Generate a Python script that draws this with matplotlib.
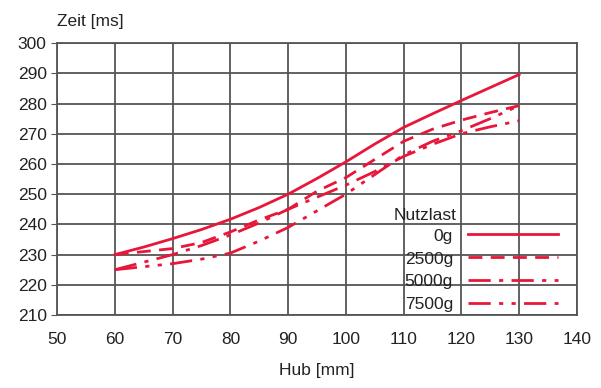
import matplotlib.pyplot as plt

hub = [60, 65, 70, 75, 80, 85, 90, 95, 100, 105, 110, 115, 120, 125, 130]
zeit_0g = [230, 232.5, 235.3, 238.3, 241.7, 245.6, 250, 255.2, 260.7, 266.6, 272.1, 276.6, 281, 285.3, 289.6]
zeit_2500g = [230, 231, 232, 234, 237.5, 241.5, 245, 251, 255.5, 261.5, 267.5, 271.5, 274.5, 277, 279.3]
zeit_5000g = [225, 227.5, 230, 233, 236.5, 240.5, 245, 249, 253, 257.5, 262.5, 266.5, 270, 272.3, 274.3]
zeit_7500g = [225, 226, 227, 228.5, 230.5, 234.5, 239, 244.5, 250, 256.5, 263, 267.5, 271, 275, 279.3]
labels = ['0g', '2500g', '5000g', '7500g']

plt.rcParams['font.family'] = ['Liberation Sans Narrow', 'Liberation Sans', 'DejaVu Sans']
plt.rcParams['font.size'] = 12.5

rot = '#e8173a'
styles = ['-', (0, (5, 3)), (0, (8, 3, 1.5, 3)), (0, (8, 3, 1.5, 3, 1.5, 3))]

fig = plt.figure(figsize=(6.01, 3.88), dpi=100)
ax = fig.add_axes([0.095, 0.188, 0.865, 0.701])

for y, lab, ls in zip([zeit_0g, zeit_2500g, zeit_5000g, zeit_7500g], labels, styles):
    ax.plot(hub, y, color=rot, lw=2, linestyle=ls, label=lab)

ax.set_xlim(50, 140)
ax.set_ylim(210, 300)
ax.set_xticks(range(50, 141, 10))
ax.set_yticks(range(210, 301, 10))
ax.grid(True, color='#555555', lw=1.3)
for s in ax.spines.values():
    s.set_color('#555555')
    s.set_linewidth(1.3)
ax.tick_params(axis='y', length=4, color='#555555', colors='#222222')
ax.tick_params(axis='x', length=0, pad=12, colors='#222222')

ax.set_xlabel('Hub [mm]', labelpad=12, color='#222222')
ax.text(0.0, 1.05, 'Zeit [ms]', transform=ax.transAxes, ha='left', va='bottom', color='#222222')

leg = ax.legend(loc='lower right', bbox_to_anchor=(0.977, -0.016), frameon=False,
                markerfirst=False, handlelength=5.2, handletextpad=0.85,
                labelspacing=0.45, borderaxespad=0.0)
for t in leg.get_texts():
    t.set_color('#222222')

# Titel "Nutzlast" rechtsbuendig ueber den Legendenbeschriftungen
fig.canvas.draw()
bb = leg.get_texts()[0].get_window_extent()
fig.text(bb.x1 + 3, (bb.y0 + bb.y1) / 2 + 21, 'Nutzlast', transform=None,
         ha='right', va='center', color='#222222')

fig.savefig('out.png', dpi=100)
